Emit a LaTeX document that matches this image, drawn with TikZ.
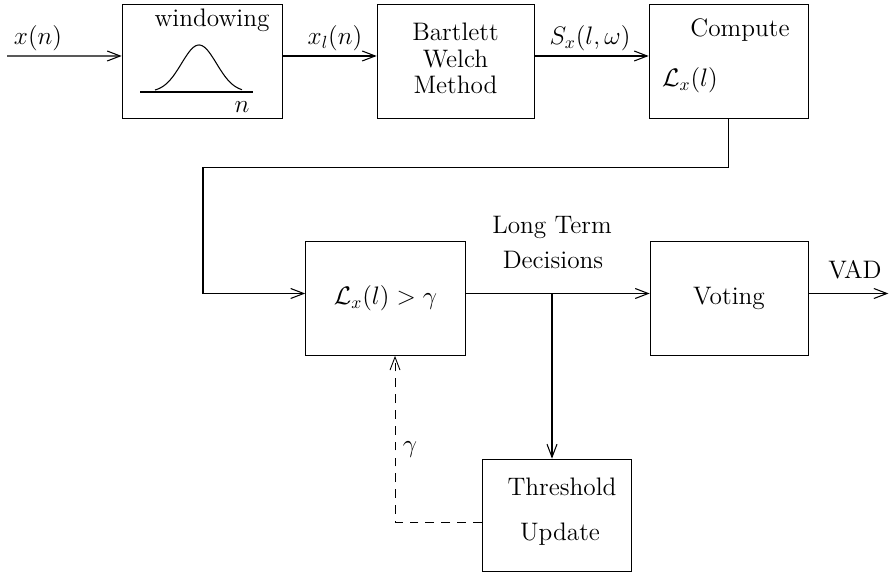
\documentclass[tikz,border=0pt]{standalone}
\usepackage{amsmath}
\usetikzlibrary{arrows.meta,positioning}

\begin{document}
\begin{tikzpicture}[
    block/.style={draw, rectangle, minimum width=3.2cm, minimum height=2.28cm, inner sep=0pt, font=\Large, align=center},
    arr/.style={-{Straight Barb[length=2.6mm, width=2mm]}, line width=0.6pt},
    lin/.style={line width=0.6pt},
    lbl/.style={font=\Large, inner sep=1pt},
  ]
  \useasboundingbox (0,0) rectangle (17.88,-11.56);

  % Blocks, top row
  \node[block] (win) at (4.04,-1.22) {};
  \node[block, minimum width=3.14cm] (bw) at (9.11,-1.22) {};
  \node[block, minimum width=3.18cm] (comp) at (14.57,-1.22) {};

  % Blocks, lower part
  \node[block] (cmp) at (7.71,-5.97) {$\mathcal{L}_x(l) > \gamma$};
  \node[block, minimum width=3.16cm] (vote) at (14.58,-5.97) {Voting};
  \node[block, minimum width=2.98cm, minimum height=2.24cm] (thr) at (11.13,-10.3) {};

  % Texts inside the blocks
  \node[lbl] (wintxt) at (4.24,-0.4) {windowing};
  \node[lbl] (winn) at (4.84,-2.14) {$n$};
  \node[lbl, align=center] (bwtxt) at (9.11,-1.17) {Bartlett\\[-3pt]Welch\\[-3pt]Method};
  \node[lbl] (comptxt) at (14.8,-0.6) {Compute};
  \node[lbl] (compL) at (13.8,-1.6) {$\mathcal{L}_x(l)$};
  \node[lbl] (thrtxt) at (11.24,-9.74) {Threshold};
  \node[lbl] (thrupd) at (11.2,-10.68) {Update};

  % Window shape
  \draw[lin] (2.8,-1.84) -- (5.06,-1.84);
  \draw[lin, domain=3.1:4.84, samples=60, smooth]
    plot (\x, {-1.84+0.94*exp(-((\x-3.98)^2)/(2*0.35^2))});

  % Signal path, top row
  \coordinate (in) at (0.14,-1.12);
  \draw[arr] (in) -- ([yshift=1mm]win.west);
  \node[lbl] (xn) at (0.76,-0.76) {$x(n)$};
  \draw[arr] ([yshift=1mm]win.east) -- ([yshift=1mm]bw.west);
  \node[lbl] (xln) at (6.7,-0.76) {$x_l(n)$};
  \draw[arr] ([yshift=1mm]bw.east) -- ([yshift=1mm]comp.west);
  \node[lbl] (sx) at (11.8,-0.76) {$S_x(l,\omega)$};

  % Back down to the decision block
  \draw[arr] (comp.south) -- ++(0,-0.98) -| (4.06,-4.5) |- ([yshift=1mm]cmp.west);

  % Decisions to voting
  \draw[arr] ([yshift=1mm]cmp.east) -- ([yshift=1mm]vote.west);
  \node[lbl] (lt) at (11.04,-4.54) {Long Term};
  \node[lbl] (dec) at (11.06,-5.2) {Decisions};
  \coordinate (br) at ([yshift=1mm]cmp.east -| 11.04,0);
  \draw[arr] (br) -- (br |- thr.north);

  % Output
  \draw[arr] ([yshift=1mm]vote.east) -- ++(1.6,0) coordinate (out);
  \node[lbl] (vad) at (17.1,-5.4) {VAD};

  % Threshold feedback
  \coordinate (fb) at (7.9,-10.44);
  \draw[arr, dashed, line width=0.5pt, dash pattern=on 5pt off 4pt] ([yshift=-1.4mm]thr.west) -- (fb) -- (fb |- cmp.south);
  \node[lbl] (gam) at (8.2,-9.0) {$\gamma$};
\end{tikzpicture}
\end{document}
